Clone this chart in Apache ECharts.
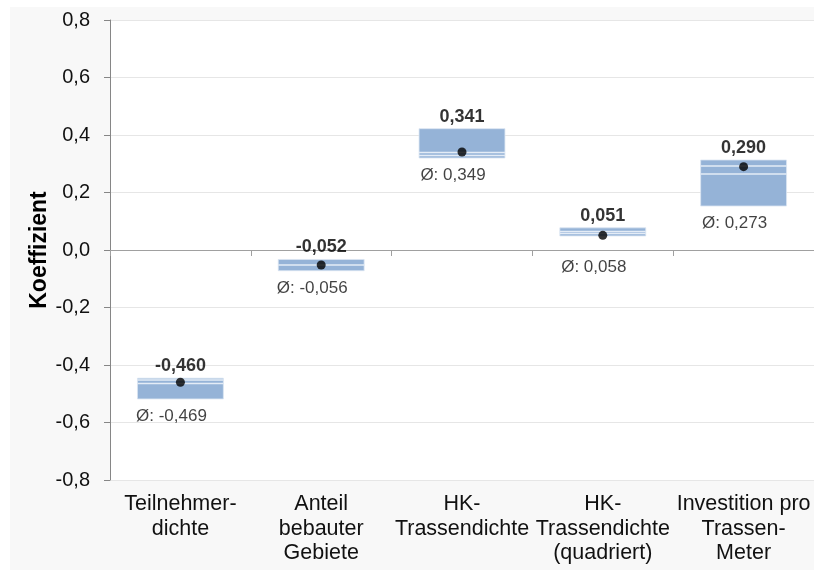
<!DOCTYPE html>
<html><head><meta charset="utf-8">
<script src="https://cdn.jsdelivr.net/npm/echarts@6/dist/echarts.min.js"></script>
<style>html,body{margin:0;padding:0;background:#fff}#c{width:814px;height:570px}</style>
</head><body><div id="c"></div>
<script>
const categories = ['Teilnehmer-\ndichte', 'Anteil\nbebauter\nGebiete', 'HK-\nTrassendichte', 'HK-\nTrassendichte\n(quadriert)', 'Investition pro\nTrassen-\nMeter'];
const coefficients = [-0.460, -0.052, 0.341, 0.051, 0.290];
const means = [-0.469, -0.056, 0.349, 0.058, 0.273];
const rangeLow = [-0.518, -0.072, 0.320, 0.049, 0.153];
const rangeHigh = [-0.446, -0.033, 0.422, 0.077, 0.313];
const innerLines = [[-0.452, -0.464], [-0.052], [0.339, 0.329], [0.064, 0.057], [0.292, 0.264]];
const yMin = -0.8, yMax = 0.8, yInterval = 0.2;
const yTitle = 'Koeffizient';

const FONT = "'Liberation Sans', Arial, sans-serif";
const fmt = v => (Math.abs(v) < 1e-9 ? 0 : v).toFixed(1).replace('.', ',');
const fmt3 = v => v.toFixed(3).replace('.', ',');
const meanGap = 0.06;

const chart = echarts.init(document.getElementById('c'), null, {renderer: 'canvas'});
chart.setOption({
  backgroundColor: '#ffffff',
  animation: false,
  graphic: [{type: 'rect', z: -10, silent: true, shape: {x: 10, y: 7, width: 804, height: 563}, style: {fill: '#f8f8f8'}}],
  grid: {left: 110, top: 20, width: 705, height: 460, show: true, backgroundColor: '#ffffff', borderWidth: 0},
  xAxis: [{
    type: 'category', data: categories, position: 'bottom', gridIndex: 0,
    axisLine: {show: false, onZero: false}, axisTick: {show: false}, splitLine: {show: false},
    axisLabel: {interval: 0, color: '#111', fontFamily: FONT, fontSize: 21.5, lineHeight: 24.5, margin: 12}
  }, {
    type: 'category', data: categories, gridIndex: 0,
    axisLine: {show: true, onZero: true, lineStyle: {color: '#a0a0a0', width: 1}},
    axisTick: {show: true, inside: true, length: 6, alignWithLabel: false, lineStyle: {color: '#a0a0a0'}},
    axisLabel: {show: false}, splitLine: {show: false}
  }],
  yAxis: {
    type: 'value', min: yMin, max: yMax, interval: yInterval,
    name: yTitle, nameLocation: 'middle', nameGap: 59, nameRotate: 90, nameMoveOverlap: false,
    nameTextStyle: {fontFamily: FONT, fontSize: 23, fontWeight: 'bold', color: '#000'},
    axisLine: {show: true, lineStyle: {color: '#868686'}},
    axisTick: {show: true, length: 6, lineStyle: {color: '#868686'}},
    axisLabel: {formatter: fmt, color: '#111', fontFamily: FONT, fontSize: 20, margin: 20},
    splitLine: {show: true, lineStyle: {color: '#e6e6e6'}}
  },
  series: [{
    type: 'custom', xAxisIndex: 0,
    data: categories.map((c, i) => [i, rangeLow[i], rangeHigh[i]]),
    encode: {x: 0, y: [1, 2]},
    renderItem: function (params, api) {
      const i = api.value(0);
      const lo = api.coord([i, api.value(1)]);
      const hi = api.coord([i, api.value(2)]);
      const w = api.size([1, 0])[0] * 0.61;
      const children = [{type: 'rect', shape: {x: lo[0] - w / 2, y: hi[1], width: w, height: lo[1] - hi[1]},
        style: {fill: '#95B3D7', stroke: '#dbe5f1', lineWidth: 0.8}}];
      innerLines[i].forEach(v => {
        const p = api.coord([i, v]);
        children.push({type: 'line', shape: {x1: lo[0] - w / 2, y1: p[1], x2: lo[0] + w / 2, y2: p[1]},
          style: {stroke: '#e4ecf6', lineWidth: 1.5}});
      });
      return {type: 'group', children};
    },
    z: 2
  }, {
    type: 'scatter', xAxisIndex: 0, symbol: 'circle', symbolSize: 9,
    itemStyle: {color: '#000'},
    data: categories.map((c, i) => [i, coefficients[i]]),
    z: 5
  }, {
    type: 'scatter', xAxisIndex: 0, symbolSize: 0, silent: true,
    data: categories.map((c, i) => [i, rangeHigh[i], coefficients[i]]),
    label: {show: true, position: 'top', distance: 3, formatter: p => fmt3(p.value[2]),
      fontFamily: FONT, fontSize: 18, fontWeight: 'bold', color: '#000'},
    z: 6
  }, {
    type: 'scatter', xAxisIndex: 0, symbolSize: 0, silent: true,
    data: categories.map((c, i) => {
      const anchor = (rangeLow[i] > 0 && rangeLow[i] - meanGap < 0) ? 0 : rangeLow[i];
      return [i, anchor, means[i]];
    }),
    label: {show: true, position: 'bottom', distance: 9, offset: [-9, 0], formatter: p => 'Ø: ' + fmt3(p.value[2]),
      fontFamily: FONT, fontSize: 17, color: '#111'},
    z: 6
  }]
});
</script>
</body></html>
